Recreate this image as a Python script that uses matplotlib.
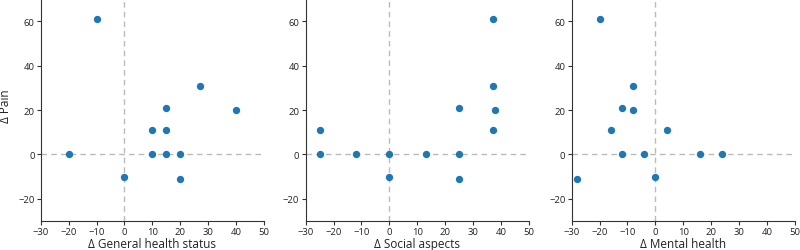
import matplotlib
matplotlib.use("Agg")
import matplotlib.pyplot as plt

plt.rcParams['font.family'] = ['Open Sans', 'DejaVu Sans']

pain = [61, 31, 21, 20, 11, 11, 0, 0, 0, 0, -10, -11]
general_health = [-10, 27, 15, 40, 10, 15, -20, 10, 15, 20, 0, 20]

pain_social = [61, 31, 21, 20, 11, 11, 0, 0, 0, 0, 0, -10, -11]
social = [37, 37, 25, 38, -25, 37, -25, -12, 0, 13, 25, 0, 25]

pain_mental = [61, 31, 21, 20, 11, 11, 0, 0, 0, 0, -10, -11]
mental = [-20, -8, -12, -8, -16, 4, -12, -4, 16, 24, 0, -28]

panels = [
    (general_health, pain, "Δ General health status"),
    (social, pain_social, "Δ Social aspects"),
    (mental, pain_mental, "Δ Mental health"),
]

fig = plt.figure(figsize=(8.0, 2.51), dpi=100)
lefts = [0.051, 0.382, 0.7146]
width = 0.279
bottom = 0.1155
height = 0.8845

xticks = [-30, -20, -10, 0, 10, 20, 30, 40, 50]
yticks = [-20, 0, 20, 40, 60]

for i, (x, y, label) in enumerate(panels):
    ax = fig.add_axes([lefts[i], bottom, width, height])
    ax.axhline(0, color='#bbbbbb', linestyle='--', linewidth=1.0, dashes=(4, 3), zorder=1)
    ax.axvline(0, color='#bbbbbb', linestyle='--', linewidth=1.0, dashes=(4, 3), zorder=1)
    ax.scatter(x, y, s=28, color='#1f77b4', zorder=3, linewidths=0)
    ax.set_xlim(-30, 50)
    ax.set_ylim(-30, 70)
    ax.set_xticks(xticks)
    ax.set_yticks(yticks)
    ax.spines['top'].set_visible(False)
    ax.spines['right'].set_visible(False)
    for s in ('left', 'bottom'):
        ax.spines[s].set_linewidth(0.8)
        ax.spines[s].set_color('#333333')
    ax.tick_params(labelsize=6.8, length=3, width=0.8, pad=1.5, colors='#333333', labelcolor='#222222')
    ax.set_xlabel(label, fontsize=8.5, color='#222222', va='baseline')
    ax.xaxis.set_label_coords(0.5, -0.117)
    if i == 0:
        ax.set_ylabel("Δ Pain", fontsize=8.5, color='#222222', va='baseline')
        ax.yaxis.set_label_coords(-0.142, 0.52)

fig.savefig("out.png", dpi=100)
